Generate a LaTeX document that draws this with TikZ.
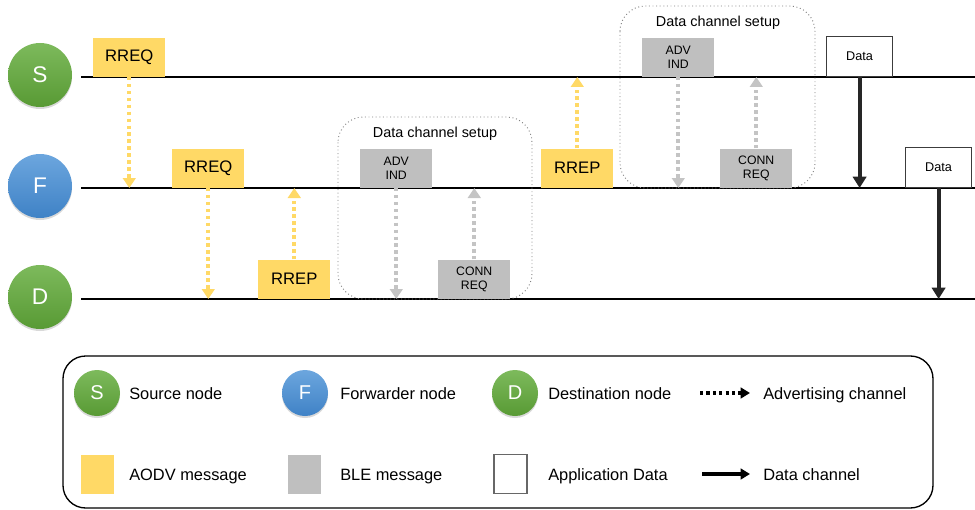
\documentclass[tikz,border=0pt]{standalone}
\usepackage{fontspec}
\setmainfont{Liberation Sans}
\usetikzlibrary{arrows.meta,shadows}
\definecolor{aodv}{HTML}{FFD966}
\definecolor{ble}{HTML}{BFBFBF}
\definecolor{blegray}{HTML}{C4C4C4}
\definecolor{gtop}{HTML}{7DBA5C}
\definecolor{gbot}{HTML}{589A34}
\definecolor{btop}{HTML}{6CA6DE}
\definecolor{bbot}{HTML}{3F82C6}
\definecolor{darkline}{HTML}{262626}
\tikzset{
  actor/.style={circle, minimum size=48pt, inner sep=0pt, text=white, font=\fontsize{17}{19}\selectfont,
     drop shadow={shadow xshift=0pt, shadow yshift=-1.5pt, opacity=0.3}},
  lactor/.style={actor, minimum size=34.5pt, font=\fontsize{15}{17}\selectfont},
  green/.style={top color=gtop, bottom color=gbot},
  blue/.style={top color=btop, bottom color=bbot},
  msg/.style={anchor=south west, minimum width=54pt, minimum height=29.25pt, inner sep=0pt, align=center},
  aodvbox/.style={msg, fill=aodv, font=\fontsize{12.5}{14}\selectfont},
  blebox/.style={msg, fill=ble, font=\fontsize{9.2}{10.8}\selectfont},
  databox/.style={anchor=south west, minimum width=49.5pt, minimum height=30pt, inner sep=0pt,
     fill=white, draw=darkline!90, line width=0.9pt, font=\fontsize{9.5}{11}\selectfont},
  tline/.style={line width=1.5pt, black},
  advarrow/.style={line width=2.8pt, dash pattern=on 2.6pt off 2.6pt, -{Triangle[width=9.5pt,length=7.5pt]}},
  yarrow/.style={advarrow, aodv},
  garrow/.style={advarrow, blegray},
  darrow/.style={line width=3pt, darkline, -{Triangle[width=10pt,length=8.5pt]}},
  setupbox/.style={draw=gray, dotted, line width=0.7pt, rounded corners=19pt},
  lbl/.style={anchor=base west, inner sep=0pt, font=\fontsize{12.3}{14}\selectfont},
  setuplbl/.style={inner sep=0pt, font=\fontsize{10.8}{12}\selectfont},
}
\begin{document}
\begin{tikzpicture}[x=0.75pt, y=-0.75pt]
\useasboundingbox (0,0) rectangle (975,510);
% actors
\node[actor, green] (S) at (40,75) {S};
\node[actor, blue] (F) at (40,186) {F};
\node[actor, green] (D) at (40,297) {D};
% time lines
\coordinate (sl0) at (81,77); \coordinate (sl1) at (975,77);
\coordinate (fl0) at (81,188); \coordinate (fl1) at (975,188);
\coordinate (dl0) at (81,299); \coordinate (dl1) at (975,299);
\draw[tline] (sl0) -- (sl1);
\draw[tline] (fl0) -- (fl1);
\draw[tline] (dl0) -- (dl1);
% setup boxes
\draw[setupbox] (338,117) rectangle (532,299);
\node[setuplbl] (su1) at (435,134) {Data channel setup};
\draw[setupbox] (620,6) rectangle (815,188);
\node[setuplbl] (su2) at (718,23) {Data channel setup};
% messages
\node[aodvbox] (rreq1) at (93,77) {RREQ};
\node[aodvbox] (rreq2) at (172,188) {RREQ};
\node[aodvbox] (rrep1) at (258,299) {RREP};
\node[blebox] (adv1) at (360,188) {ADV\\IND};
\node[blebox] (conn1) at (438,299) {CONN\\REQ};
\node[aodvbox] (rrep2) at (541,188) {RREP};
\node[blebox] (adv2) at (642,77) {ADV\\IND};
\node[blebox] (conn2) at (720,188) {CONN\\REQ};
\node[databox] (data1) at (826,77) {Data};
\node[databox] (data2) at (905,188) {Data};
% arrows
\draw[yarrow] (rreq1.south) -- (rreq1.south |- fl0);
\draw[yarrow] (rreq2.south) -- (rreq2.south |- dl0);
\draw[yarrow] (rrep1.north) -- (rrep1.north |- fl0);
\draw[garrow] (adv1.south) -- (adv1.south |- dl0);
\draw[garrow] (conn1.north) -- (conn1.north |- fl0);
\draw[yarrow] (rrep2.north) -- (rrep2.north |- sl0);
\draw[garrow] (adv2.south) -- (adv2.south |- fl0);
\draw[garrow] (conn2.north) -- (conn2.north |- sl0);
\draw[darrow] (data1.south) -- (data1.south |- fl0);
\draw[darrow] (data2.south) -- (data2.south |- dl0);
% legend
\draw[line width=1pt, rounded corners=17pt] (63,356) rectangle (933,508);
\node[lactor, green] (lS) at (97,393) {S};
\node[lbl] (tS) at (129,399) {Source node};
\node[lactor, blue] (lF) at (305,393) {F};
\node[lbl] (tF) at (340,399) {Forwarder node};
\node[lactor, green] (lD) at (515,393) {D};
\node[lbl] (tD) at (548,399) {Destination node};
\coordinate (la0) at (700,393); \coordinate (la1) at (750,393);
\draw[line width=2.4pt, dash pattern=on 2.4pt off 2.4pt, -{Triangle[width=8pt,length=7pt]}, black] (la0) -- (la1);
\node[lbl] (tA) at (763,399) {Advertising channel};
\node[minimum width=24.75pt, minimum height=29.25pt, inner sep=0pt, fill=aodv] (lY) at (97.5,474) {};
\node[lbl] (tY) at (129,480) {AODV message};
\node[minimum width=24.75pt, minimum height=29.25pt, inner sep=0pt, fill=ble] (lG) at (304.5,474) {};
\node[lbl] (tG) at (340,480) {BLE message};
\node[minimum width=24.75pt, minimum height=29.25pt, inner sep=0pt, fill=white, draw=darkline!70, line width=0.8pt] (lW) at (510.5,474) {};
\node[lbl] (tW) at (548,480) {Application Data};
\coordinate (ld0) at (702,474); \coordinate (ld1) at (750,474);
\draw[line width=2.4pt, black, -{Triangle[width=8pt,length=7pt]}] (ld0) -- (ld1);
\node[lbl] (tDc) at (763,480) {Data channel};
\end{tikzpicture}
\end{document}
